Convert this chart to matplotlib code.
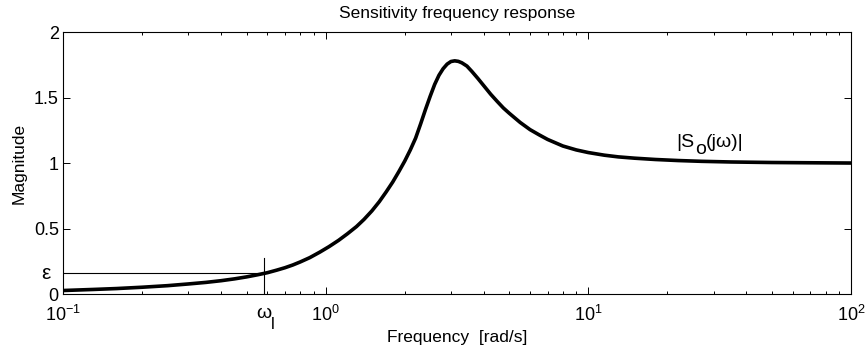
import matplotlib
matplotlib.use("Agg")
import matplotlib.pyplot as plt
from matplotlib.transforms import IdentityTransform

plt.rcParams["font.family"] = ["Liberation Sans", "DejaVu Sans"]
plt.rcParams["mathtext.fontset"] = "custom"
plt.rcParams["mathtext.rm"] = "Liberation Sans"
plt.rcParams["mathtext.it"] = "Liberation Sans:italic"
plt.rcParams["mathtext.default"] = "regular"

# |So(jw)|
freq = [0.10, 0.13, 0.16, 0.20, 0.25, 0.30, 0.35, 0.40, 0.45, 0.50, 0.55, 0.60,
        0.65, 0.70, 0.75, 0.80, 0.87, 0.95, 1.03, 1.12, 1.21, 1.31, 1.40, 1.50,
        1.60, 1.70, 1.80, 1.90, 2.00, 2.10, 2.20, 2.30, 2.40, 2.50, 2.60, 2.70,
        2.80, 2.90, 3.00, 3.10, 3.20, 3.30, 3.45, 3.60, 3.80, 4.00, 4.25, 4.50,
        4.75, 5.00, 5.50, 6.00, 6.50, 7.00, 8.00, 9.00, 10.0, 11.5, 13.0, 15.0,
        18.0, 22.0, 27.0, 35.0, 50.0, 70.0, 100.0]
mag = [0.027, 0.035, 0.042, 0.052, 0.064, 0.077, 0.089, 0.102, 0.116, 0.131, 0.147, 0.163,
       0.182, 0.201, 0.222, 0.245, 0.278, 0.320, 0.362, 0.410, 0.460, 0.515, 0.570, 0.635,
       0.705, 0.780, 0.855, 0.935, 1.015, 1.100, 1.190, 1.300, 1.410, 1.510, 1.600, 1.670,
       1.720, 1.755, 1.775, 1.780, 1.776, 1.765, 1.740, 1.700, 1.645, 1.590, 1.525, 1.470,
       1.420, 1.380, 1.310, 1.255, 1.215, 1.180, 1.130, 1.100, 1.080, 1.060, 1.047, 1.037,
       1.027, 1.019, 1.013, 1.008, 1.004, 1.002, 1.000]

eps = 0.158
w_l = 0.583
w_l_line_top = 0.275

yticks = [0, 0.5, 1, 1.5, 2]
ytick_labels = ["0", "0.5", "1", "1.5", "2"]

fig = plt.figure(figsize=(8.67, 3.53), dpi=100)
ax = fig.add_axes([0.0727, 0.167, 0.9088, 0.7423])

ax.semilogx(freq, mag, color="black", linewidth=2.6, solid_joinstyle="round")
ax.plot([0.1, w_l], [eps, eps], color="black", linewidth=0.8)
ax.plot([w_l, w_l], [0, w_l_line_top], color="black", linewidth=0.8)

ax.set_xlim(0.1, 100)
ax.set_ylim(0, 2)
ax.set_yticks(yticks)
ax.set_yticklabels(ytick_labels)

ax.tick_params(which="both", direction="in", top=True, right=True, labelsize=13)
ax.tick_params(which="major", length=5, width=0.7)
ax.tick_params(which="minor", length=2.5, width=0.7)
ax.tick_params(axis="x", pad=7.5)
ax.tick_params(axis="y", pad=3)
for s in ax.spines.values():
    s.set_linewidth(0.8)

ax.set_title("Sensitivity frequency response", fontsize=12.5, pad=10)
ax.set_xlabel("Frequency  [rad/s]", fontsize=12.5, labelpad=4)
ax.set_ylabel("Magnitude", fontsize=12.5, labelpad=5)

ax.text(-0.022, eps, "ε", transform=ax.get_yaxis_transform(),
        ha="center", va="center", fontsize=15)

# w_l label under the axis, subscript placed by hand
t_w = ax.text(w_l, -0.092, "ω", transform=ax.get_xaxis_transform(),
              ha="center", va="baseline", fontsize=14)
# |So(jw)| label
t_s = ax.text(21.7, 1.124, "|S", ha="left", va="baseline", fontsize=14)

fig.canvas.draw()
r = fig.canvas.get_renderer()
ident = IdentityTransform()

bw = t_w.get_window_extent(r)
base_w = ax.get_xaxis_transform().transform((w_l, -0.092))[1]
ax.text(bw.x1 - 1, base_w - 11, "l", transform=ident,
        ha="left", va="baseline", fontsize=12)

bs = t_s.get_window_extent(r)
base_s = ax.transData.transform((21.7, 1.124))[1]
t_o = ax.text(bs.x1, base_s - 7, "o", transform=ident,
              ha="left", va="baseline", fontsize=14)
bo = t_o.get_window_extent(r)
ax.text(bo.x1, base_s, "(jω)|", transform=ident,
        ha="left", va="baseline", fontsize=14)

fig.savefig("out.png", dpi=100)
